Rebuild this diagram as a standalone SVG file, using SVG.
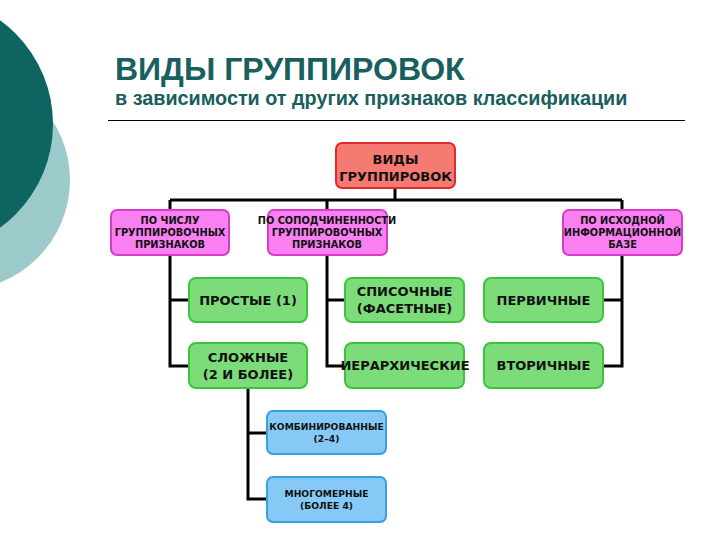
<svg xmlns="http://www.w3.org/2000/svg" width="720" height="540" viewBox="0 0 720 540">
<style>
.title{font-family:"Liberation Sans",Arial,sans-serif;font-weight:bold;fill:#18605e}
.t{font-family:"DejaVu Sans",Verdana,sans-serif;font-weight:bold;fill:#111;text-anchor:middle}
.red{fill:#f47a72;stroke:#e22a2a;stroke-width:2}
.mag{fill:#fa80f2;stroke:#d63cc8;stroke-width:2}
.grn{fill:#7cdc7a;stroke:#3cc43c;stroke-width:2}
.blu{fill:#86c9f6;stroke:#3a9fe0;stroke-width:2}
.c{fill:none;stroke:#000;stroke-width:3}
</style>
<rect width="720" height="540" fill="#fff"/>
<circle cx="-40" cy="180" r="110" fill="#9ccaca"/>
<circle cx="-75" cy="124" r="128" fill="#0e6460"/>
<text class="title" x="115" y="80" font-size="32">ВИДЫ ГРУППИРОВОК</text>
<text class="title" x="115" y="105" font-size="19.8">в зависимости от других признаков классификации</text>
<line x1="108" y1="120.5" x2="685" y2="120.5" stroke="#000" stroke-width="1"/>
<g id="connectors">
<path class="c" d="M395 188V200M170 200H622M170 200V366H189M170 300H189M327 200V366H345M327 300H345M622 200V366H603M622 300H603"/>
<path class="c" d="M248 388V499H267M248 433H267"/>
</g>
<g id="n-root"><rect class="red" x="336" y="143" width="119" height="45" rx="6"/>
<text class="t" x="395.5" y="164" font-size="13">ВИДЫ</text><text class="t" x="395.5" y="181" font-size="13">ГРУППИРОВОК</text></g>
<g id="n-chislo"><rect class="mag" x="111" y="210" width="118" height="45" rx="6"/>
<text class="t" x="170" y="224" font-size="9.8">ПО ЧИСЛУ</text><text class="t" x="170" y="236" font-size="9.8">ГРУППИРОВОЧНЫХ</text><text class="t" x="170" y="248" font-size="9.8">ПРИЗНАКОВ</text></g>
<g id="n-sopod"><rect class="mag" x="268" y="210" width="119" height="45" rx="6"/>
<text class="t" x="327" y="224" font-size="9.8">ПО СОПОДЧИНЕННОСТИ</text><text class="t" x="327" y="236" font-size="9.8">ГРУППИРОВОЧНЫХ</text><text class="t" x="327" y="248" font-size="9.8">ПРИЗНАКОВ</text></g>
<g id="n-ishod"><rect class="mag" x="563" y="210" width="119" height="45" rx="6"/>
<text class="t" x="622.5" y="224" font-size="9.8">ПО ИСХОДНОЙ</text><text class="t" x="622.5" y="236" font-size="9.8">ИНФОРМАЦИОННОЙ</text><text class="t" x="622.5" y="248" font-size="9.8">БАЗЕ</text></g>
<g id="n-prostye"><rect class="grn" x="189" y="278" width="118" height="44" rx="7"/>
<text class="t" x="248" y="305" font-size="13">ПРОСТЫЕ (1)</text></g>
<g id="n-slozhnye"><rect class="grn" x="189" y="343" width="118" height="45" rx="7"/>
<text class="t" x="248" y="362" font-size="13">СЛОЖНЫЕ</text><text class="t" x="248" y="379" font-size="13">(2 И БОЛЕЕ)</text></g>
<g id="n-spisochnye"><rect class="grn" x="345" y="278" width="119" height="44" rx="7"/>
<text class="t" x="404.5" y="296" font-size="13">СПИСОЧНЫЕ</text><text class="t" x="404.5" y="313" font-size="13">(ФАСЕТНЫЕ)</text></g>
<g id="n-ierarh"><rect class="grn" x="345" y="343" width="119" height="45" rx="7"/>
<text class="t" x="405" y="370" font-size="13">ИЕРАРХИЧЕСКИЕ</text></g>
<g id="n-pervichnye"><rect class="grn" x="484" y="278" width="119" height="44" rx="7"/>
<text class="t" x="543.5" y="305" font-size="13">ПЕРВИЧНЫЕ</text></g>
<g id="n-vtorichnye"><rect class="grn" x="484" y="343" width="119" height="45" rx="7"/>
<text class="t" x="543.5" y="370" font-size="13">ВТОРИЧНЫЕ</text></g>
<g id="n-kombin"><rect class="blu" x="267" y="411" width="119" height="43" rx="6"/>
<text class="t" x="326.5" y="430" font-size="9.2">КОМБИНИРОВАННЫЕ</text><text class="t" x="326.5" y="442" font-size="9.2">(2–4)</text></g>
<g id="n-mnogo"><rect class="blu" x="267" y="477" width="119" height="45" rx="6"/>
<text class="t" x="326.5" y="497" font-size="9.2">МНОГОМЕРНЫЕ</text><text class="t" x="326.5" y="509" font-size="9.2">(БОЛЕЕ 4)</text></g>
</svg>
